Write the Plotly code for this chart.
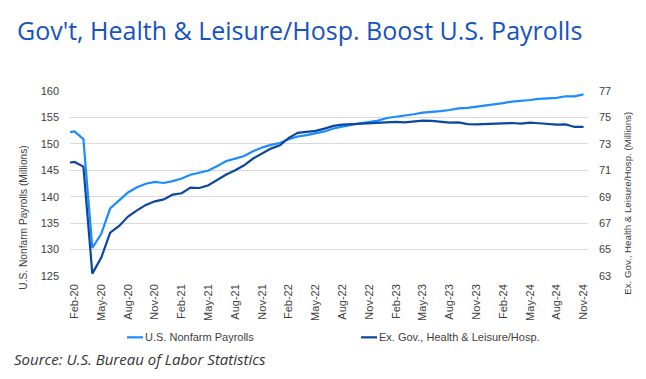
import plotly.graph_objects as go

months = ["Jan-20","Feb-20","Mar-20","Apr-20","May-20","Jun-20","Jul-20","Aug-20","Sep-20","Oct-20","Nov-20","Dec-20",
          "Jan-21","Feb-21","Mar-21","Apr-21","May-21","Jun-21","Jul-21","Aug-21","Sep-21","Oct-21","Nov-21","Dec-21",
          "Jan-22","Feb-22","Mar-22","Apr-22","May-22","Jun-22","Jul-22","Aug-22","Sep-22","Oct-22","Nov-22","Dec-22",
          "Jan-23","Feb-23","Mar-23","Apr-23","May-23","Jun-23","Jul-23","Aug-23","Sep-23","Oct-23","Nov-23","Dec-23",
          "Jan-24","Feb-24","Mar-24","Apr-24","May-24","Jun-24","Jul-24","Aug-24","Sep-24","Oct-24","Nov-24"]

nonfarm = [152.1, 152.35, 150.9, 130.3, 133.0, 137.8, 139.3, 140.8, 141.8, 142.45, 142.8, 142.6,
           142.95, 143.45, 144.15, 144.5, 144.95, 145.8, 146.75, 147.2, 147.7, 148.6, 149.3, 149.8,
           150.15, 150.9, 151.4, 151.65, 152.0, 152.35, 152.9, 153.3, 153.6, 153.9, 154.2, 154.4,
           154.9, 155.1, 155.3, 155.6, 155.9, 156.0, 156.2, 156.4, 156.7, 156.8, 157.0, 157.3,
           157.5, 157.7, 158.0, 158.1, 158.3, 158.5, 158.6, 158.7, 159.0, 159.0, 159.35]

ex_gov = [71.55, 71.63, 71.28, 63.18, 64.39, 66.28, 66.79, 67.5, 67.97, 68.38, 68.65, 68.8,
          69.16, 69.26, 69.69, 69.66, 69.87, 70.27, 70.68, 71.0, 71.38, 71.89, 72.29, 72.64,
          72.89, 73.45, 73.83, 73.88, 73.98, 74.15, 74.36, 74.45, 74.48, 74.52, 74.53, 74.56,
          74.6, 74.66, 74.62, 74.7, 74.76, 74.74, 74.66, 74.6, 74.63, 74.5, 74.48, 74.5,
          74.52, 74.53, 74.58, 74.53, 74.6, 74.56, 74.5, 74.46, 74.47, 74.28, 74.28]

tick_labels = months[1::3]
left_ticks = [125, 130, 135, 140, 145, 150, 155, 160]
right_ticks = [63, 65, 67, 69, 71, 73, 75, 77]

series_names = ["U.S. Nonfarm Payrolls", "Ex. Gov., Health & Leisure/Hosp."]
axis_titles = ["U.S. Nonfarm Payrolls (Millions)", "Ex. Gov., Health & Leisure/Hosp. (Millions)"]
title_text = "Gov't, Health & Leisure/Hosp. Boost U.S. Payrolls"
source_text = "Source: U.S. Bureau of Labor Statistics"

light_blue = "#1a8cff"
dark_blue = "#0c469e"

W, H = 646, 379
L, R, T, B = 70, 588, 91, 276.5

def px(x):
    return (x - L) / (R - L)

def py(y):
    return (B - y) / (B - T)

sans = "Liberation Sans, Arial, sans-serif"
tick_font = dict(family=sans, size=11, color="#404040")

fig = go.Figure()
fig.add_trace(go.Scatter(x=months, y=nonfarm, name=series_names[0], mode="lines",
                         line=dict(color=light_blue, width=2.2), yaxis="y"))
fig.add_trace(go.Scatter(x=months, y=ex_gov, name=series_names[1], mode="lines",
                         line=dict(color=dark_blue, width=2.2), yaxis="y2"))

fig.update_layout(
    width=W, height=H,
    margin=dict(l=L, r=W - R, t=T, b=H - B, autoexpand=False),
    paper_bgcolor="white", plot_bgcolor="white",
    showlegend=False,
    xaxis=dict(type="category", categoryorder="array", categoryarray=months, automargin=False,
               range=[0.5, len(months) - 0.5], tickmode="array", tickvals=tick_labels,
               ticktext=tick_labels, tickangle=-90, tickfont=tick_font, showgrid=False,
               showline=False, zeroline=False, ticks="", ticklabelstandoff=5),
    yaxis=dict(range=[125, 160], tickvals=left_ticks, tickfont=tick_font, automargin=False,
               showgrid=True, gridcolor="#d9d9d9", gridwidth=1, zeroline=False, showline=False,
               ticks="", ticklabelstandoff=10),
    yaxis2=dict(range=[63, 77], tickvals=right_ticks, tickfont=tick_font, overlaying="y", side="right",
                automargin=False, showgrid=False, zeroline=False, showline=False, ticks="",
                ticklabelstandoff=10),
)

annotations = [
    dict(text=title_text, x=px(15), y=py(30), xref="paper", yref="paper",
         xanchor="left", yanchor="middle", showarrow=False,
         font=dict(family="Open Sans, sans-serif", size=25, color="#1652c0")),
    dict(text="<i>" + source_text + "</i>", x=px(12), y=py(360), xref="paper", yref="paper",
         xanchor="left", yanchor="middle", showarrow=False,
         font=dict(family="Open Sans, sans-serif", size=15, color="#333333")),
    dict(text=axis_titles[0], x=px(24), y=py(218), xref="paper", yref="paper", textangle=-90,
         xanchor="center", yanchor="middle", showarrow=False, font=dict(family=sans, size=10.2, color="#404040")),
    dict(text=axis_titles[1], x=px(628), y=py(204), xref="paper", yref="paper", textangle=-90,
         xanchor="center", yanchor="middle", showarrow=False, font=dict(family=sans, size=9.7, color="#404040")),
    dict(text=series_names[0], x=px(143), y=py(338), xref="paper", yref="paper",
         xanchor="left", yanchor="middle", showarrow=False, font=dict(family=sans, size=11, color="#404040")),
    dict(text=series_names[1], x=px(377), y=py(338), xref="paper", yref="paper",
         xanchor="left", yanchor="middle", showarrow=False, font=dict(family=sans, size=11, color="#404040")),
]
shapes = [
    dict(type="line", xref="paper", yref="paper", x0=px(127), x1=px(143), y0=py(338), y1=py(338),
         line=dict(color=light_blue, width=2.2)),
    dict(type="line", xref="paper", yref="paper", x0=px(361), x1=px(377), y0=py(338), y1=py(338),
         line=dict(color=dark_blue, width=2.2)),
]
fig.update_layout(annotations=annotations, shapes=shapes)

fig.write_html("out.html", config={"displayModeBar": False},
               post_script="document.body.style.margin='0px';")
